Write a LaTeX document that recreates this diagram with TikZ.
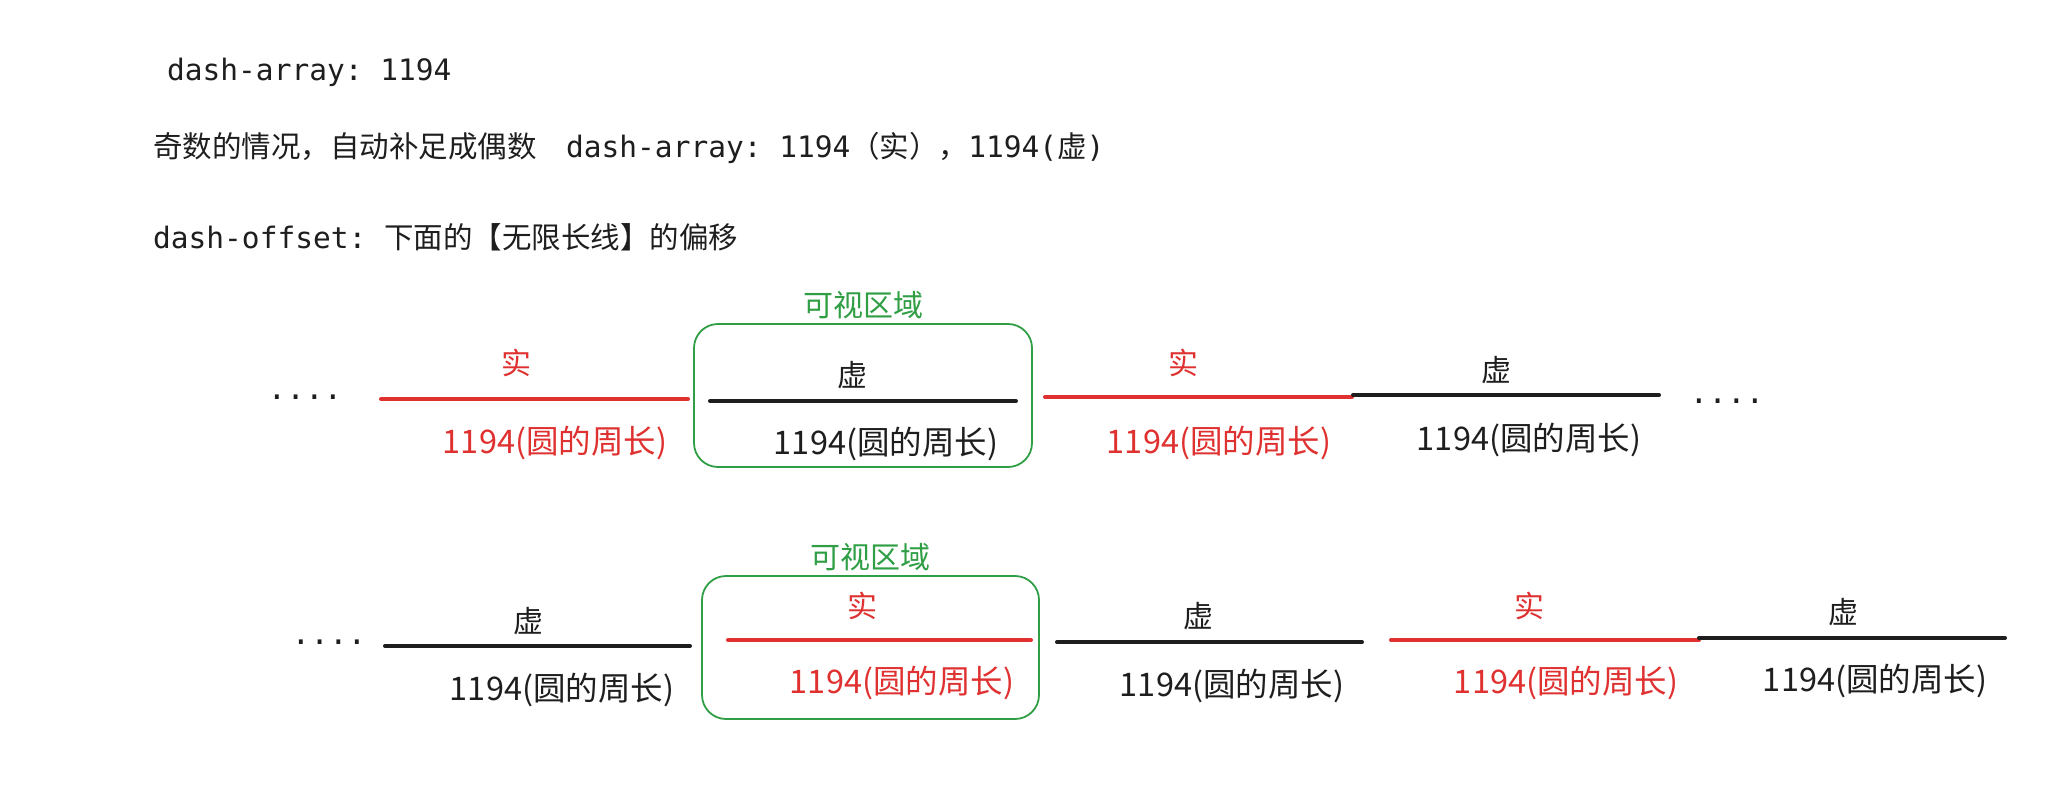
\documentclass[tikz,border=0pt]{standalone}
\usepackage{fontspec}
\setmainfont{Noto Sans CJK SC}
\setmonofont{DejaVu Sans Mono}
\newfontfamily\cjk{Noto Sans CJK SC}
\usepackage{xcolor}
\usetikzlibrary{positioning}
\definecolor{solidred}{HTML}{E03131}
\definecolor{gapblack}{HTML}{1E1E1E}
\definecolor{viewgreen}{HTML}{2F9E44}
\tikzset{
  seg/.style={line width=4pt, line cap=round},
  redseg/.style={seg, draw=solidred},
  blkseg/.style={seg, draw=gapblack},
  viewbox/.style={draw=viewgreen, line width=1.8pt, rounded corners=24pt, inner sep=0pt},
  viewlab/.style={text=viewgreen, font=\fontsize{30}{34}\selectfont, inner sep=0pt},
  tag/.style={font=\fontsize{30}{34}\selectfont, inner sep=0pt},
  len/.style={font=\fontsize{32.5}{36}\selectfont, inner sep=0pt},
  dots/.style={font=\fontsize{31}{36}\selectfont\ttfamily, text=gapblack, inner sep=0pt},
  head/.style={font=\fontsize{29.5}{34}\selectfont, text=gapblack, anchor=base west, inner sep=0pt}
}

\begin{document}
\begin{tikzpicture}[x=1pt, y=-1pt]
\useasboundingbox (0,0) rectangle (2049,786);
% ---------- header text ----------
\node[head] (h1) at (167,81) {\ttfamily dash-array: 1194};
\node[head] (h2) at (153,158)
  {奇数的情况，自动补足成偶数\hspace{1em}{\ttfamily dash-array: 1194}（实），{\ttfamily 1194(}虚{\ttfamily )}};
\node[head] (h3) at (153,248) {{\ttfamily dash-offset:\ }下面的【无限长线】的偏移};
% ---------- row 1 (dash-offset 0) ----------
\node[dots] (d1l) at (305,397) {....};
\draw[redseg] (381,399) -- (688,399);
\node[tag, text=solidred] (m1a) at (516,363) {实};
\node[len, text=solidred] (l1a) at (555,443) {1194(圆的周长)};
\node[viewbox, minimum width=338pt, minimum height=143pt] (view1) at (863,395.5) {};
\node[viewlab, above=4pt of view1] (vl1) {可视区域};
\draw[blkseg] (710,401) -- (1016,401);
\node[tag, text=gapblack] (m1b) at (852,375) {虚};
\node[len, text=gapblack] (l1b) at (886,444) {1194(圆的周长)};
\draw[redseg] (1045,397) -- (1352,397);
\node[tag, text=solidred] (m1c) at (1183,363) {实};
\node[len, text=solidred] (l1c) at (1219,443) {1194(圆的周长)};
\draw[blkseg] (1353,395) -- (1659,395);
\node[tag, text=gapblack] (m1d) at (1496,370) {虚};
\node[len, text=gapblack] (l1d) at (1529,440) {1194(圆的周长)};
\node[dots] (d1r) at (1727,401) {....};
% ---------- row 2 (shifted by one dash) ----------
\node[dots] (d2l) at (329,642) {....};
\draw[blkseg] (385,646) -- (690,646);
\node[tag, text=gapblack] (m2a) at (528,621) {虚};
\node[len, text=gapblack] (l2a) at (562,690) {1194(圆的周长)};
\node[viewbox, minimum width=337pt, minimum height=143pt] (view2) at (870.5,647.5) {};
\node[viewlab, above=4pt of view2] (vl2) {可视区域};
\draw[redseg] (728,640) -- (1031,640);
\node[tag, text=solidred] (m2b) at (862,606) {实};
\node[len, text=solidred] (l2b) at (902,683) {1194(圆的周长)};
\draw[blkseg] (1057,642) -- (1362,642);
\node[tag, text=gapblack] (m2c) at (1198,616) {虚};
\node[len, text=gapblack] (l2c) at (1232,686) {1194(圆的周长)};
\draw[redseg] (1391,640) -- (1699,640);
\node[tag, text=solidred] (m2d) at (1529,606) {实};
\node[len, text=solidred] (l2d) at (1566,683) {1194(圆的周长)};
\draw[blkseg] (1699,638) -- (2005,638);
\node[tag, text=gapblack] (m2e) at (1843,612) {虚};
\node[len, text=gapblack] (l2e) at (1875,681) {1194(圆的周长)};
\end{tikzpicture}
\end{document}
